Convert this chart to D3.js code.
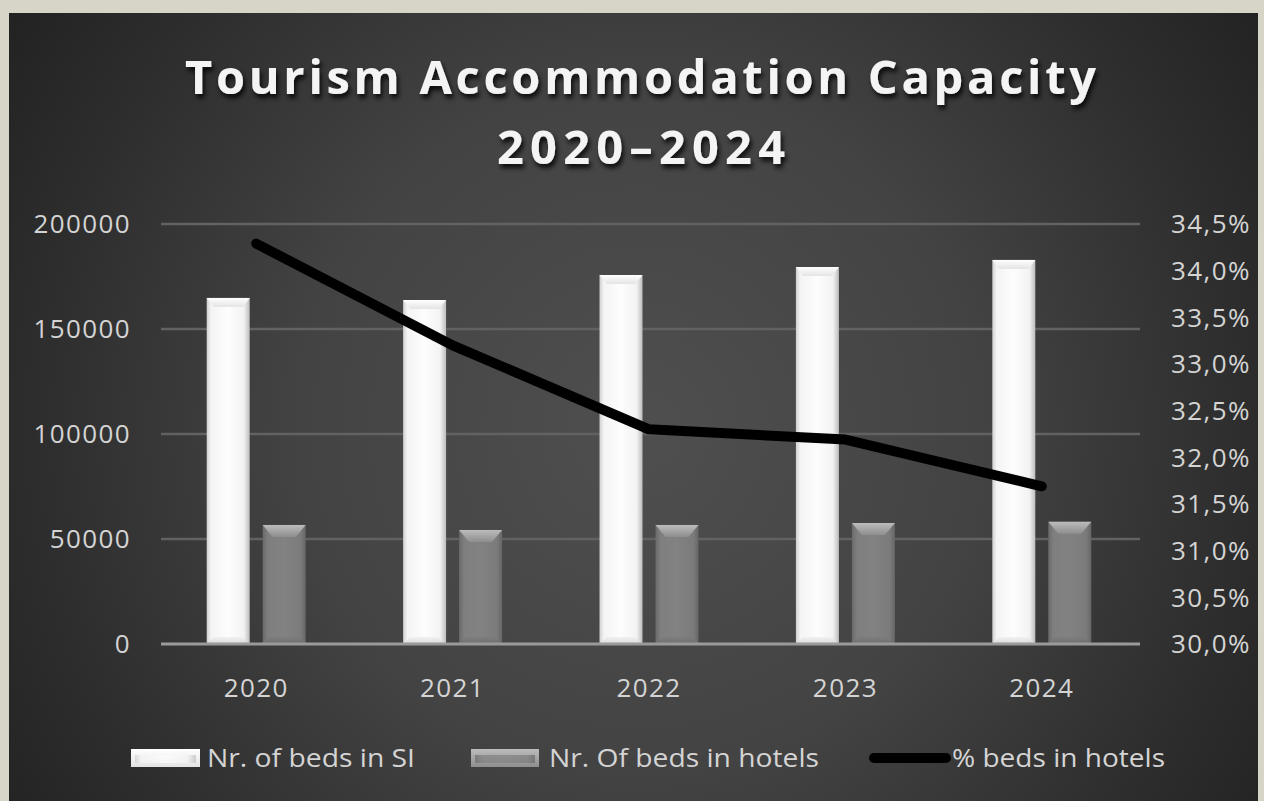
<!DOCTYPE html>
<html lang="en">

<head>
  <meta charset="UTF-8">
  <title>Tourism Accommodation Capacity</title>
  <script src="https://d3js.org/d3.v7.min.js"></script>
  <style>
    body {
      margin: 0;
      background: #d7d4c8;
      overflow: hidden;
    }

    text {
      font-family: "Open Sans", "DejaVu Sans", sans-serif;
    }
  </style>
</head>

<body>
  <svg id="chart"></svg>

  <script>
    // data
    const years = ['2020', '2021', '2022', '2023', '2024'];
    const bedsSI = [164800, 163800, 175700, 179500, 182900];
    const bedsHotels = [56700, 54300, 56700, 57600, 58200];
    const pctHotels = [34.29, 33.2, 32.3, 32.19, 31.69];

    const leftTicks = [0, 50000, 100000, 150000, 200000];
    const rightTicks = [30, 30.5, 31, 31.5, 32, 32.5, 33, 33.5, 34, 34.5];
    const seriesNames = ['Nr. of beds in SI', 'Nr. Of beds in hotels', '% beds in hotels'];

    const width = 1264;
    const height = 801;
    const plot = { left: 158, right: 1140, top: 224, bottom: 644 };

    const svg = d3.select('#chart')
      .attr('width', width)
      .attr('height', height);

    const defs = svg.append('defs');

    // panel background
    const bg = defs.append('radialGradient')
      .attr('id', 'bg')
      .attr('gradientUnits', 'userSpaceOnUse')
      .attr('cx', 640).attr('cy', 430).attr('r', 760);
    bg.append('stop').attr('offset', 0).attr('stop-color', '#4f4f4f');
    bg.append('stop').attr('offset', 0.45).attr('stop-color', '#434343');
    bg.append('stop').attr('offset', 0.8).attr('stop-color', '#2d2d2d');
    bg.append('stop').attr('offset', 1).attr('stop-color', '#222');

    function hGrad(id, stops) {
      const g = defs.append('linearGradient').attr('id', id)
        .attr('x1', 0).attr('x2', 1).attr('y1', 0).attr('y2', 0);
      stops.forEach(s => g.append('stop').attr('offset', s[0]).attr('stop-color', s[1]));
    }
    function vGrad(id, stops) {
      const g = defs.append('linearGradient').attr('id', id)
        .attr('x1', 0).attr('x2', 0).attr('y1', 0).attr('y2', 1);
      stops.forEach(s => g.append('stop').attr('offset', s[0]).attr('stop-color', s[1]));
    }

    hGrad('whiteBody', [[0, '#cfcfcf'], [0.1, '#f4f4f4'], [0.5, '#fdfdfd'], [0.86, '#f3f3f3'], [1, '#bdbdbd']]);
    vGrad('whiteTop', [[0, '#ffffff'], [1, '#e4e4e4']]);
    vGrad('whiteBottom', [[0, '#f0f0f0'], [1, '#d2d2d2']]);
    hGrad('grayBody', [[0, '#6a6a6a'], [0.12, '#7f7f7f'], [0.5, '#828282'], [0.88, '#7b7b7b'], [1, '#666']]);
    vGrad('grayTop', [[0, '#bcbcbc'], [1, '#8e8e8e']]);
    vGrad('grayBottom', [[0, '#7c7c7c'], [1, '#6c6c6c']]);

    const shadow = defs.append('filter').attr('id', 'shadow')
      .attr('x', '-10%').attr('y', '-30%').attr('width', '120%').attr('height', '160%');
    shadow.append('feDropShadow')
      .attr('dx', 2).attr('dy', 4).attr('stdDeviation', 2.5)
      .attr('flood-color', '#000').attr('flood-opacity', 0.85);

    svg.append('rect')
      .attr('x', 9).attr('y', 13)
      .attr('width', 1249).attr('height', height - 13)
      .attr('fill', 'url(#bg)');

    // scales
    const x0 = d3.scaleBand()
      .domain(years)
      .range([plot.left, plot.right])
      .paddingInner(0.496)
      .paddingOuter(0.248);

    const x1 = d3.scaleBand()
      .domain([0, 1])
      .range([0, x0.bandwidth()])
      .paddingInner(0.232);

    const y = d3.scaleLinear().domain([0, 200000]).range([plot.bottom, plot.top]);
    const yPct = d3.scaleLinear().domain([30, 34.5]).range([plot.bottom, plot.top]);

    // gridlines
    svg.append('g')
      .selectAll('line')
      .data(leftTicks.slice(1))
      .enter()
      .append('line')
      .attr('x1', plot.left + 3).attr('x2', plot.right)
      .attr('y1', d => y(d)).attr('y2', d => y(d))
      .attr('stroke', '#626262')
      .attr('stroke-width', 2.5);

    // bars
    const barSeries = [
      { values: bedsSI, body: 'whiteBody', top: 'whiteTop', bottom: 'whiteBottom', bev: 7 },
      { values: bedsHotels, body: 'grayBody', top: 'grayTop', bottom: 'grayBottom', bev: 10 }
    ];

    barSeries.forEach((s, si) => {
      const g = svg.append('g');
      const bars = g.selectAll('g.bar')
        .data(years.map((yr, i) => ({ yr, v: s.values[i] })))
        .enter()
        .append('g')
        .attr('class', 'bar');

      bars.append('rect')
        .attr('x', d => x0(d.yr) + x1(si))
        .attr('y', d => y(d.v))
        .attr('width', x1.bandwidth())
        .attr('height', d => y(0) - y(d.v))
        .attr('fill', `url(#${s.body})`);

      const bev = s.bev;
      bars.append('polygon')
        .attr('points', d => {
          const l = x0(d.yr) + x1(si), r = l + x1.bandwidth(), t = y(d.v);
          return [[l, t], [r, t], [r - bev, t + bev + 2], [l + bev, t + bev + 2]].join(' ');
        })
        .attr('fill', `url(#${s.top})`);

      bars.append('polygon')
        .attr('points', d => {
          const l = x0(d.yr) + x1(si), r = l + x1.bandwidth(), b = y(0);
          return [[l, b], [r, b], [r - 7, b - 7], [l + 7, b - 7]].join(' ');
        })
        .attr('fill', `url(#${s.bottom})`)
        .attr('opacity', 0.8);
    });

    // baseline
    svg.append('line')
      .attr('x1', plot.left + 3).attr('x2', plot.right)
      .attr('y1', y(0)).attr('y2', y(0))
      .attr('stroke', '#9a9a9a')
      .attr('stroke-width', 3);

    // percentage line
    const line = d3.line()
      .x((d, i) => x0(years[i]) + x0.bandwidth() / 2)
      .y(d => yPct(d));

    svg.append('path')
      .datum(pctHotels)
      .attr('d', line)
      .attr('fill', 'none')
      .attr('stroke', '#000')
      .attr('stroke-width', 10)
      .attr('stroke-linecap', 'round')
      .attr('stroke-linejoin', 'round');

    // axes labels
    const labelStyle = sel => sel
      .attr('fill', '#d4d4d4')
      .attr('font-size', 26)
      .attr('letter-spacing', 1.4);

    svg.append('g')
      .selectAll('text')
      .data(leftTicks)
      .enter()
      .append('text')
      .attr('x', 131)
      .attr('y', d => y(d))
      .attr('dy', '0.36em')
      .attr('text-anchor', 'end')
      .text(d => d)
      .call(labelStyle);

    const fmtPct = d3.format('.1f');
    svg.append('g')
      .selectAll('text')
      .data(rightTicks)
      .enter()
      .append('text')
      .attr('x', 1171)
      .attr('y', d => yPct(d))
      .attr('dy', '0.36em')
      .text(d => fmtPct(d).replace('.', ',') + '%')
      .call(labelStyle);

    svg.append('g')
      .selectAll('text')
      .data(years)
      .enter()
      .append('text')
      .attr('x', d => x0(d) + x0.bandwidth() / 2)
      .attr('y', 697)
      .attr('text-anchor', 'middle')
      .text(d => d)
      .call(labelStyle);

    // title
    const title = svg.append('g').attr('filter', 'url(#shadow)');
    title.append('text')
      .attr('x', 185).attr('y', 94)
      .attr('font-size', 47)
      .attr('font-weight', 'bold')
      .attr('fill', '#f4f4f4')
      .attr('textLength', 911)
      .attr('lengthAdjust', 'spacing')
      .text('Tourism Accommodation Capacity');
    title.append('text')
      .attr('x', 497).attr('y', 164)
      .attr('font-size', 47)
      .attr('font-weight', 'bold')
      .attr('fill', '#f4f4f4')
      .attr('textLength', 288)
      .attr('lengthAdjust', 'spacing')
      .text('2020\u20132024');

    // legend
    const legendY = 758;
    const legend = svg.append('g');
    const swatches = [
      { x: 131, w: 69, body: 'whiteBody', top: 'whiteTop', tx: 207, tw: 208 },
      { x: 471, w: 68, body: 'grayBody', top: 'grayTop', tx: 549, tw: 270 },
      { x: 874, w: 72, line: true, tx: 952, tw: 213 }
    ];

    swatches.forEach((s, i) => {
      if (s.line) {
        legend.append('line')
          .attr('x1', s.x).attr('x2', s.x + s.w)
          .attr('y1', legendY).attr('y2', legendY)
          .attr('stroke', '#000')
          .attr('stroke-width', 10)
          .attr('stroke-linecap', 'round');
      } else {
        legend.append('rect')
          .attr('x', s.x).attr('y', legendY - 9)
          .attr('width', s.w).attr('height', 18)
          .attr('fill', `url(#${s.top})`);
        legend.append('rect')
          .attr('x', s.x + 4).attr('y', legendY - 3)
          .attr('width', s.w - 8).attr('height', 8)
          .attr('fill', `url(#${s.body})`)
          .attr('opacity', 0.7);
      }
      legend.append('text')
        .attr('x', s.tx)
        .attr('y', legendY)
        .attr('dy', '0.36em')
        .attr('fill', '#d4d4d4')
        .attr('font-size', 26)
        .attr('textLength', s.tw)
        .attr('lengthAdjust', 'spacingAndGlyphs')
        .text(seriesNames[i]);
    });
  </script>
</body>

</html>
